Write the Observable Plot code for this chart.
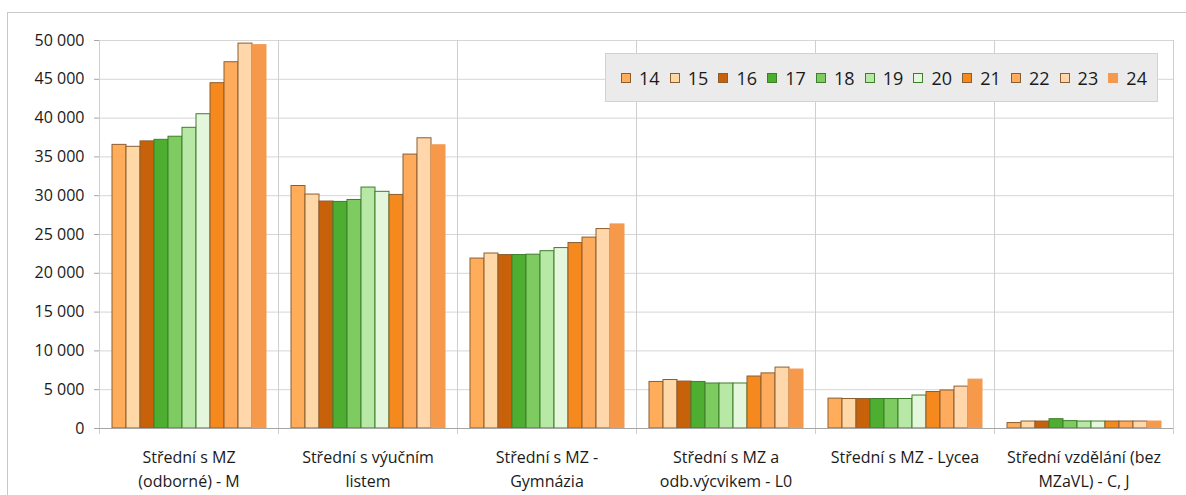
<!DOCTYPE html>
<html>
<head>
<meta charset="utf-8">
<script src="https://cdn.jsdelivr.net/npm/d3@7"></script>
<script src="https://cdn.jsdelivr.net/npm/@observablehq/plot@0.6"></script>
<style>
  html, body { margin: 0; padding: 0; background: #fff; }
  body { width: 1186px; height: 495px; overflow: hidden; position: relative; font-family: "Open Sans", sans-serif; }
  #frame { position: absolute; left: 7px; top: 12px; width: 1200px; height: 500px; border: 1px solid #c8c8c8; box-sizing: border-box; }
  #chart { position: absolute; left: 8px; top: 13px; }
  #legend { position: absolute; left: 605px; top: 53px; width: 553px; height: 49px; background: #ebebeb; border: 1px solid #d2d2d2; box-sizing: border-box;
            display: flex; align-items: center; justify-content: flex-start; padding-left: 15px; font-size: 18px; color: #1a1a1a; }
  .item { display: flex; align-items: center; width: 50px; }
  .sw { width: 10px; height: 10px; margin-right: 8px; box-sizing: border-box; border: 1px solid #8b5e30; }
</style>
</head>
<body>
<div id="frame"></div>
<div id="chart"></div>
<div id="legend"></div>
<script>
const years = ["14","15","16","17","18","19","20","21","22","23","24"];
const categories = [
  "Střední s MZ (odborné) - M",
  "Střední s výučním listem",
  "Střední s MZ - Gymnázia",
  "Střední s MZ a odb.výcvikem - L0",
  "Střední s MZ - Lycea",
  "Střední vzdělání (bez MZaVL) - C, J"
];
const catLabels = [
  "Střední s MZ\n(odborné) - M",
  "Střední s výučním\nlistem",
  "Střední s MZ -\nGymnázia",
  "Střední s MZ a\nodb.výcvikem - L0",
  "Střední s MZ - Lycea",
  "Střední vzdělání (bez\nMZaVL) - C, J"
];
const valM     = [36550, 36300, 37000, 37200, 37600, 38750, 40500, 44500, 47200, 49600, 49400];
const valVL    = [31250, 30150, 29250, 29200, 29450, 31050, 30500, 30100, 35300, 37400, 36500];
const valGym   = [21900, 22550, 22350, 22350, 22400, 22850, 23250, 23900, 24600, 25700, 26300];
const valL0    = [6000, 6250, 6050, 6000, 5800, 5800, 5800, 6700, 7100, 7850, 7600];
const valLyc   = [3850, 3800, 3800, 3800, 3800, 3800, 4250, 4700, 4900, 5400, 6300];
const valCJ    = [700, 900, 900, 1200, 950, 900, 900, 900, 900, 900, 900];
const series = [valM, valVL, valGym, valL0, valLyc, valCJ];
const yTicks = [0, 5000, 10000, 15000, 20000, 25000, 30000, 35000, 40000, 45000, 50000];

const fills   = ["#ffad5b","#ffd8a8","#c8620a","#4dae32","#7ecb62","#b8e8a6","#e4f7dc","#f5891e","#ffab5e","#ffd7ab","#f7994a"];
const strokes = ["#8b5e30","#8b5e30","#8b5e30","#3d7f28","#3d7f28","#3d7f28","#3d7f28","#8b5e30","#8b5e30","#8b5e30","#f09a55"];

const data = categories.flatMap((c, i) => years.map((y, j) => ({cat: c, year: y, value: series[i][j]})));

const fmt = d => d3.format(",")(d).replace(/,/g, "\u00a0");

const plot = Plot.plot({
  width: 1178,
  height: 482,
  marginLeft: 89,
  marginRight: 11,
  marginTop: 27,
  marginBottom: 67,
  style: {fontFamily: "Open Sans, sans-serif", fontSize: "16px", color: "#1a1a1a"},
  fx: {domain: categories, padding: 0},
  x: {domain: years, paddingInner: 0, paddingOuter: 0.75, axis: null},
  y: {domain: [0, 50000]},
  color: {domain: years, range: fills},
  marks: [
    Plot.gridY(yTicks, {stroke: "#d6d6d6", strokeOpacity: 1}),
    Plot.frame({anchor: "right", stroke: "#cfcfcf", insetBottom: -5}),
    Plot.frame({anchor: "left", stroke: "#cfcfcf", insetBottom: -5}),
    Plot.barY(data, {fx: "cat", x: "year", y: "value", fill: "year",
      stroke: d => strokes[years.indexOf(d.year)], strokeWidth: 1}),
    Plot.ruleY([0], {stroke: "#a6a6a6"}),
    Plot.axisY(yTicks, {tickSize: 5, tickPadding: 10, tickFormat: fmt, label: null, fontSize: 16, stroke: "#a6a6a6"}),
    Plot.axisFx({anchor: "bottom", tickSize: 0, tickPadding: 17, label: null, fontSize: 16, lineHeight: 1.5,
      tickFormat: d => catLabels[categories.indexOf(d)]})
  ]
});
document.getElementById("chart").appendChild(plot);

const leg = document.getElementById("legend");
years.forEach((y, i) => {
  const it = document.createElement("div");
  it.className = "item";
  const sw = document.createElement("span");
  sw.className = "sw";
  sw.style.background = fills[i];
  sw.style.borderColor = strokes[i];
  it.appendChild(sw);
  const t = document.createElement("span");
  t.textContent = y;
  it.appendChild(t);
  leg.appendChild(it);
});
</script>
</body>
</html>
